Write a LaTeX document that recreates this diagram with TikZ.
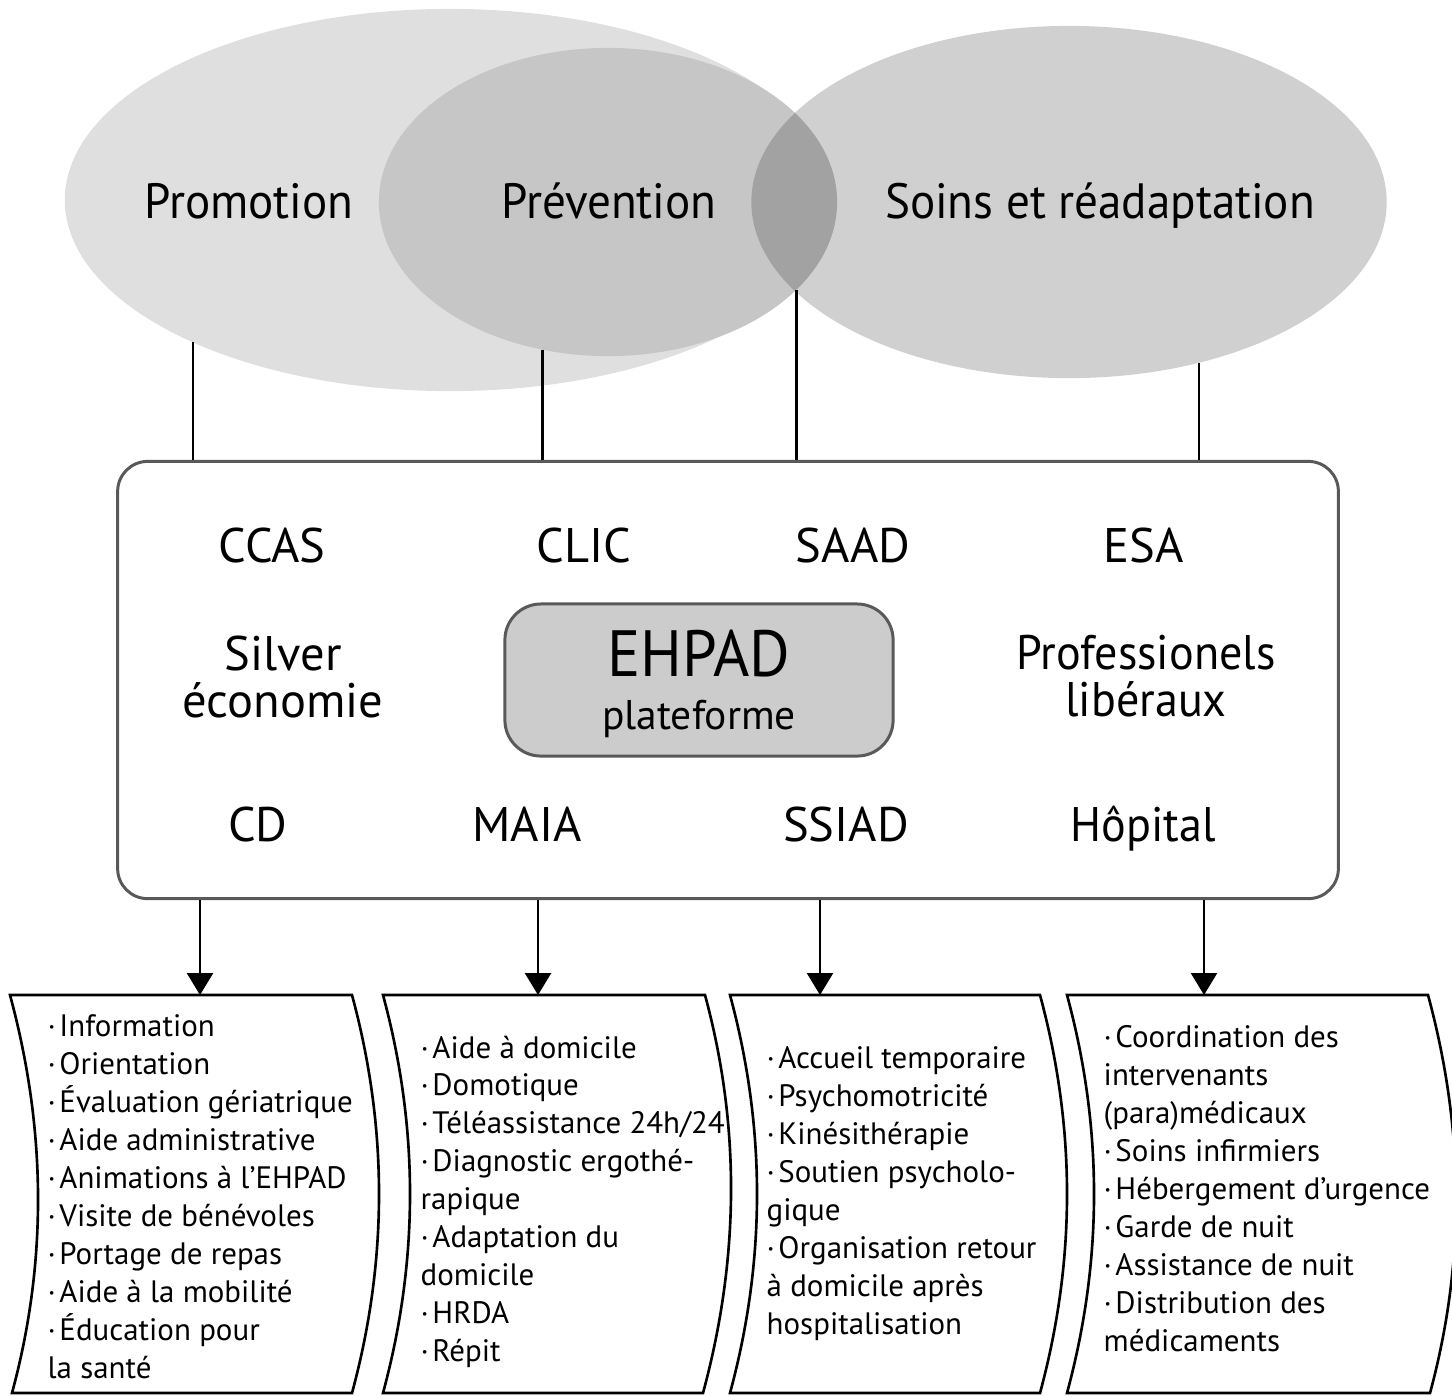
\documentclass[tikz,border=0pt]{standalone}
\usepackage{fontspec}
\setmainfont{PT Sans}
\newfontfamily\serre[FakeStretch=0.95]{PT Sans}
\newcommand{\puce}{·\kern1pt}
\usetikzlibrary{shapes.geometric, arrows.meta}

\begin{document}
\begin{tikzpicture}[x=0.01cm, y=-0.01cm,
  bulle/.style={ellipse, inner sep=0pt, outer sep=0pt},
  titre/.style={anchor=base, font=\serre\fontsize{14.1}{17}\selectfont},
  acteur/.style={align=center, font=\fontsize{13.8}{13.6}\selectfont},
  cadre/.style={draw=black!65, line width=0.85pt, rounded corners=0.3cm,
                minimum width=12.2cm, minimum height=4.37cm},
  pivot/.style={draw=black!65, line width=0.85pt, fill=gray!40, rounded corners=0.36cm,
                minimum width=3.88cm, minimum height=1.52cm},
  lien/.style={line width=0.7pt},
  fleche/.style={line width=0.7pt, -{Triangle[width=0.26cm, length=0.22cm]}},
  ruban/.style={draw, line width=0.75pt},
  liste/.style={anchor=north west, inner sep=0pt, align=left,
                font=\fontsize{8.8}{10.8}\selectfont},
]
  \useasboundingbox (0,0) rectangle (1452,1396);

  % ellipses (top)
  \node[bulle, fill=gray!25, minimum width=7.70cm, minimum height=3.82cm] (promo) at (450,200) {};
  \node[bulle, fill=gray!45, minimum width=4.58cm, minimum height=3.08cm] (prev)  at (608,202) {};
  \node[bulle, fill=gray!37, minimum width=6.35cm, minimum height=3.52cm] (soins) at (1069,202) {};
  \begin{scope}
    \clip (prev.center) ellipse [x radius=2.29cm, y radius=1.54cm];
    \fill[gray!73] (soins.center) ellipse [x radius=3.175cm, y radius=1.76cm];
  \end{scope}
  \node[titre] (t-promo) at (249,218) {Promotion};
  \node[titre] (t-prev)  at (609,218) {Prévention};
  \node[titre] (t-soins) at (1100,218) {Soins et réadaptation};

  % partenaires
  \node[cadre] (box) at (728,680) {};
  \node[acteur, anchor=base] (ccas) at (272,562) {CCAS};
  \node[acteur, anchor=base] (clic) at (584,562) {CLIC};
  \node[acteur, anchor=base] (saad) at (853,562) {SAAD};
  \node[acteur, anchor=base] (esa)  at (1144,562) {ESA};
  \node[acteur] (silver) at (283,677) {Silver\\économie};
  \node[acteur, font=\serre\fontsize{13.8}{13.6}\selectfont] (prolib) at (1146,676) {Professionels\\libéraux};
  \node[acteur, anchor=base] (cd)    at (258,841) {CD};
  \node[acteur, anchor=base] (maia)  at (527,841) {MAIA};
  \node[acteur, anchor=base] (ssiad) at (846,841) {SSIAD};
  \node[acteur, anchor=base, font=\serre\fontsize{13.8}{13.6}\selectfont] (hopit) at (1143,841) {Hôpital};

  % EHPAD (centre)
  \node[pivot] (ehpad) at (699,680) {};
  \node[anchor=base, font=\serre\fontsize{18.6}{22}\selectfont] (ehpad-t) at (699,676) {EHPAD};
  \node[anchor=base, font=\fontsize{11.8}{14}\selectfont] (plat) at (699,729) {plateforme};

  % liens ellipses -> cadre
  \draw[lien] (promo.209) -- (promo.209 |- box.north);
  \draw[lien] (prev.246)  -- (prev.246 |- box.north);
  \draw[lien] (prev.335)  -- (prev.335 |- box.north);
  \draw[lien] (soins.309) -- (soins.309 |- box.north);

  % rubans (bottom)
  \draw[ruban] (10,995) -- (352,995) .. controls +(36,133) and +(36,-133) .. (352,1393)
    -- (12,1393) .. controls +(36,-133) and +(36,133) .. (10,995) -- cycle;
  \draw[ruban] (383,995) -- (705,995) .. controls +(36,133) and +(36,-133) .. (703,1393)
    -- (383,1393) .. controls +(36,-133) and +(36,133) .. (383,995) -- cycle;
  \draw[ruban] (730,995) -- (1040,995) .. controls +(36,133) and +(36,-133) .. (1040,1393)
    -- (730,1393) .. controls +(36,-133) and +(36,133) .. (730,995) -- cycle;
  \draw[ruban] (1067,995) -- (1428,995) .. controls +(36,133) and +(36,-133) .. (1430,1393)
    -- (1067,1393) .. controls +(36,-133) and +(36,133) .. (1067,995) -- cycle;
  \coordinate (r1) at (200,995);
  \coordinate (r2) at (538,995);
  \coordinate (r3) at (820,995);
  \coordinate (r4) at (1204,995);
  \draw[fleche] (r1 |- box.south) -- (r1);
  \draw[fleche] (r2 |- box.south) -- (r2);
  \draw[fleche] (r3 |- box.south) -- (r3);
  \draw[fleche] (r4 |- box.south) -- (r4);

  \node[liste] (l1) at (47,1014) {\puce Information\\\puce Orientation\\\puce Évaluation gériatrique\\
    \puce Aide administrative\\\puce Animations à l’EHPAD\\\puce Visite de bénévoles\\
    \puce Portage de repas\\\puce Aide à la mobilité\\\puce Éducation pour\\la santé};
  \node[liste] (l2) at (420,1035) {\puce Aide à domicile\\\puce Domotique\\\puce Téléassistance 24h/24\\
    \puce Diagnostic ergothé-\\rapique\\\puce Adaptation du\\domicile\\\puce HRDA\\\puce Répit};
  \node[liste] (l3) at (766,1046) {\puce Accueil temporaire\\\puce Psychomotricité\\\puce Kinésithérapie\\
    \puce Soutien psycholo-\\gique\\\puce Organisation retour\\à domicile après\\hospitalisation};
  \node[liste] (l4) at (1103,1025) {\puce Coordination des\\intervenants\\(para)médicaux\\
    \puce Soins infirmiers\\\puce Hébergement d’urgence\\\puce Garde de nuit\\
    \puce Assistance de nuit\\\puce Distribution des\\médicaments};
\end{tikzpicture}
\end{document}
